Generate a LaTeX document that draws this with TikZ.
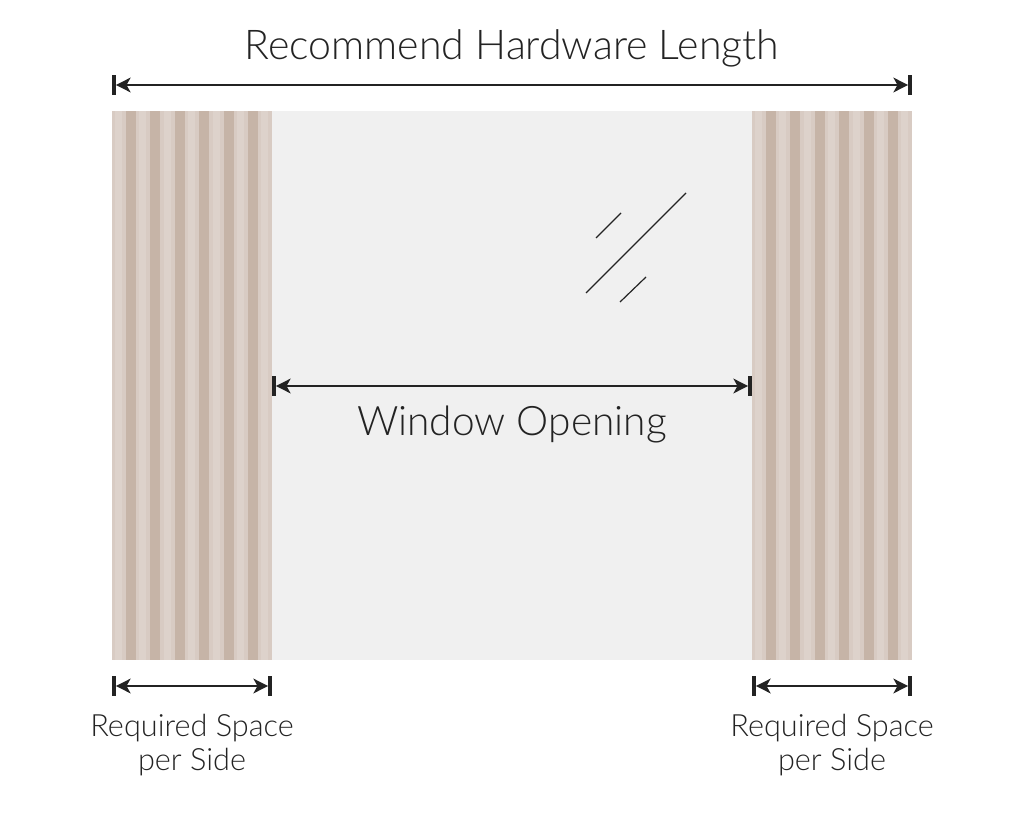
\documentclass[tikz,border=0pt]{standalone}
\usepackage{fontspec}
\setmainfont{Lato Light}
\usetikzlibrary{arrows.meta}

\definecolor{ink}{RGB}{35,35,35}
\definecolor{glass}{RGB}{240,240,240}
\definecolor{pleatlight}{RGB}{216,203,195}
\definecolor{pleatpale}{RGB}{221,210,203}
\definecolor{pleatdark}{RGB}{198,180,167}

\tikzset{
  endbar/.style={fill=ink, inner sep=0pt, minimum width=2.4pt, minimum height=15pt},
  dimline/.style={draw=ink, line width=1.8pt, {Stealth[length=11pt,width=11pt,inset=3pt]}-{Stealth[length=11pt,width=11pt,inset=3pt]}},
  label/.style={text=ink, inner sep=0pt, align=center}
}

\begin{document}
\begin{tikzpicture}[x=0.75pt,y=0.75pt,yscale=-1]
\useasboundingbox (0,0) rectangle (1024,820);

%Shape: Window
\fill [glass] (272,111) rectangle (752,660);
%Glass marks
\draw [ink, line width=0.9pt] (586,293) -- (686,193);
\draw [ink, line width=0.9pt] (596,238) -- (621,213);
\draw [ink, line width=0.9pt] (620,302) -- (646,277);

%Shape: Curtains
\foreach \x in {112,752} {
  \fill [pleatlight] (\x,111) rectangle (\x+160,660);
  \foreach \k in {0,...,6} {
    \fill [pleatpale] (\x+3+\k*24.4,111) rectangle (\x+10+\k*24.4,660);
  }
  \foreach \k in {0,...,5} {
    \fill [pleatdark] (\x+14+\k*24.4,111) rectangle (\x+24+\k*24.4,660);
  }
}

%Bars
\node [endbar] (hwL) at (114,85) {};
\node [endbar] (hwR) at (910,85) {};
\node [endbar] (woL) at (274,386) {};
\node [endbar] (woR) at (750,386) {};
\node [endbar] (lsL) at (114,686) {};
\node [endbar] (lsR) at (270,686) {};
\node [endbar] (rsL) at (754,686) {};
\node [endbar] (rsR) at (910,686) {};

%Dimension lines
\draw [dimline] (hwL.east) -- (hwR.west);
\draw [dimline] (woL.east) -- (woR.west);
\draw [dimline] (lsL.east) -- (lsR.west);
\draw [dimline] (rsL.east) -- (rsR.west);

% Text Node
\node [label, font=\fontsize{30.8}{34}\selectfont] (hwtext) at (512,48) {Recommend Hardware Length};
% Text Node
\node [label, font=\fontsize{30.5}{34}\selectfont] (wotext) at (512,424) {Window Opening};
% Text Node
\node [label, font=\fontsize{23}{25.5}\selectfont] (lstext) at (192,745) {Required Space\\per Side};
% Text Node
\node [label, font=\fontsize{23}{25.5}\selectfont] (rstext) at (832,745) {Required Space\\per Side};

\end{tikzpicture}
\end{document}
